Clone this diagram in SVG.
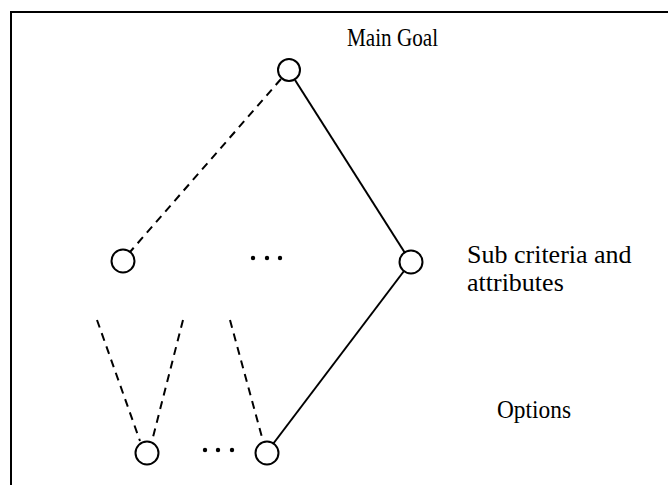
<svg xmlns="http://www.w3.org/2000/svg" width="668" height="485" viewBox="0 0 668 485">
<style>
.node{fill:#fff;stroke:#000;stroke-width:2}
.edge{stroke:#000;stroke-width:2;fill:none}
.dash{stroke-dasharray:8,6}
.lbl{font-family:"Liberation Serif","Times New Roman",serif;font-size:26px;fill:#000}
.dot{fill:#000}
</style>
<rect x="11" y="12" width="700" height="500" fill="#fff" stroke="#000" stroke-width="2"/>
<g id="connectors">
<line class="edge" x1="295" y1="80" x2="405" y2="253"/>
<line class="edge dash" x1="281" y1="79" x2="130" y2="252"/>
<line class="edge" x1="404" y1="271" x2="273" y2="444"/>
<line class="edge dash" x1="97" y1="320" x2="140" y2="441"/>
<line class="edge dash" x1="183" y1="320" x2="152" y2="441"/>
<line class="edge dash" x1="230" y1="320" x2="263" y2="441"/>
</g>
<g id="main-goal">
<circle class="node" cx="289" cy="70" r="11"/>
<text class="lbl" x="347" y="46" textLength="91" lengthAdjust="spacingAndGlyphs">Main Goal</text>
</g>
<g id="criterion-left">
<circle class="node" cx="123" cy="261" r="11.5"/>
</g>
<g id="criteria-ellipsis">
<circle class="dot" cx="253" cy="258" r="2.2"/>
<circle class="dot" cx="267" cy="258" r="2.2"/>
<circle class="dot" cx="280" cy="258" r="2.2"/>
</g>
<g id="criterion-right">
<circle class="node" cx="411" cy="262" r="11.5"/>
<text class="lbl" x="467" y="263">Sub criteria and</text>
<text class="lbl" x="467" y="291">attributes</text>
</g>
<g id="option-left">
<circle class="node" cx="147" cy="453" r="11.5"/>
</g>
<g id="options-ellipsis">
<circle class="dot" cx="205" cy="450" r="2.2"/>
<circle class="dot" cx="218" cy="450" r="2.2"/>
<circle class="dot" cx="232" cy="450" r="2.2"/>
</g>
<g id="option-right">
<circle class="node" cx="267" cy="453" r="11.5"/>
<text class="lbl" x="497" y="418" textLength="74" lengthAdjust="spacingAndGlyphs">Options</text>
</g>
</svg>
